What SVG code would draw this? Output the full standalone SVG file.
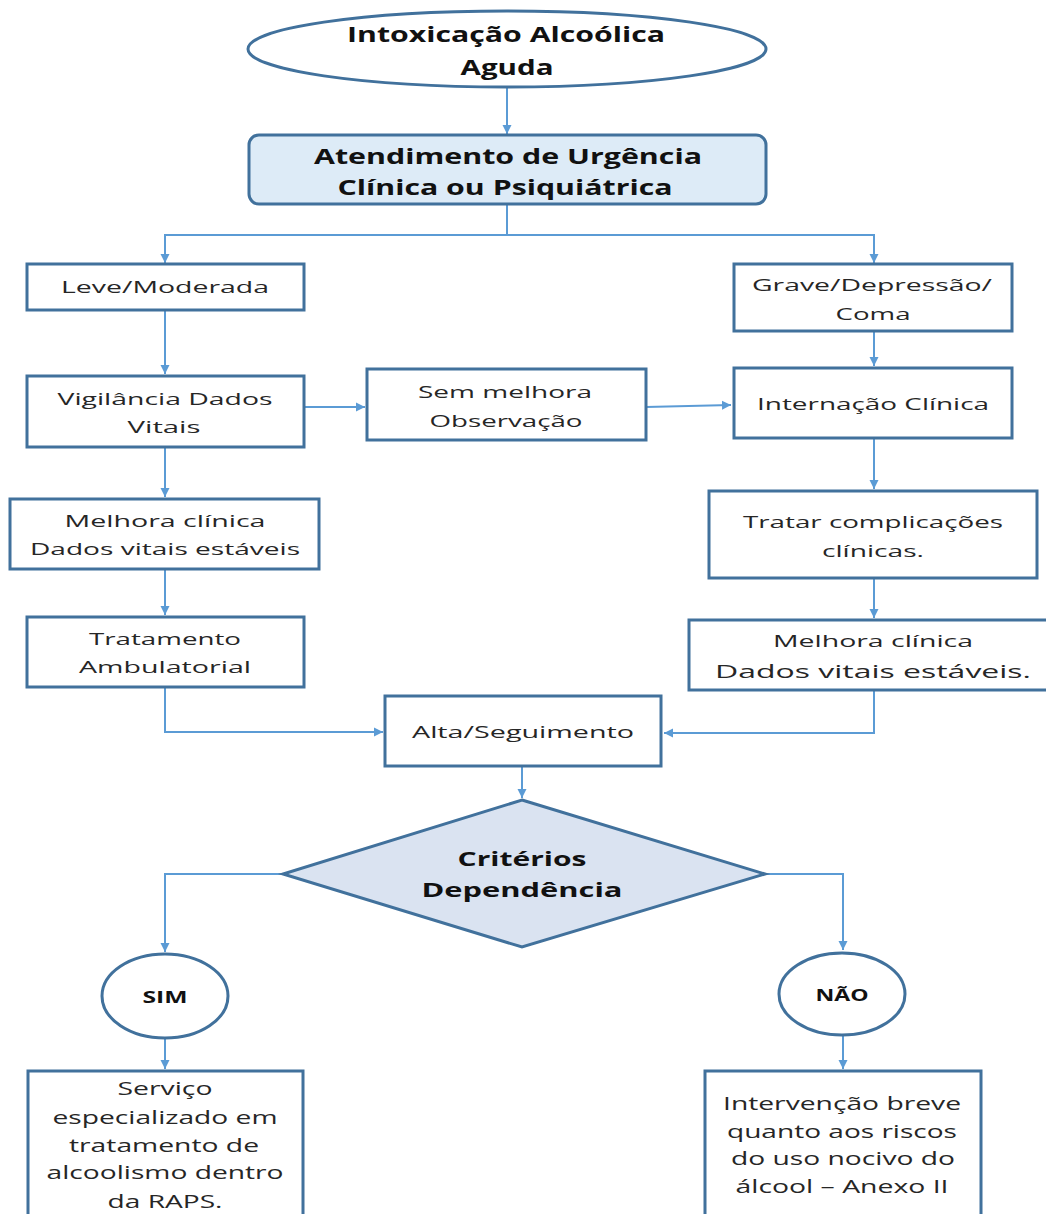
<svg xmlns="http://www.w3.org/2000/svg" width="1046" height="1214" viewBox="0 0 1046 1214">
<defs>
<marker id="ah" markerUnits="userSpaceOnUse" markerWidth="10" markerHeight="10" refX="9" refY="5" orient="auto">
<path d="M0,0.5 L9,5 L0,9.5 Z" fill="#5b9bd5"/>
</marker>
<style>
.box{fill:#ffffff;stroke:#41719c;stroke-width:3}
.hl{fill:#ddebf7;stroke:#41719c;stroke-width:3}
.dia{fill:#dae3f1;stroke:#41719c;stroke-width:3}
.c{fill:none;stroke:#5b9bd5;stroke-width:2}
.t{font-family:"Open Sans","DejaVu Sans",sans-serif;font-size:17px;fill:#262626;text-anchor:middle}
.tb{font-family:"Open Sans","DejaVu Sans",sans-serif;font-size:22px;font-weight:bold;fill:#111111;text-anchor:middle}
.tl{font-family:"Open Sans","DejaVu Sans",sans-serif;font-size:18px;fill:#262626;text-anchor:middle}
.tbl{font-family:"Open Sans","DejaVu Sans",sans-serif;font-size:20px;font-weight:bold;fill:#111111;text-anchor:middle}
.ts{font-family:"Open Sans","DejaVu Sans",sans-serif;font-size:16px;font-weight:bold;fill:#111111;text-anchor:middle}
</style>
</defs>
<rect width="1046" height="1214" fill="#ffffff"/>

<g id="connectors">
<path class="c" d="M507,88 V134" marker-end="url(#ah)"/>
<path class="c" d="M507,205 V235 H165 V263" marker-end="url(#ah)"/>
<path class="c" d="M507,235 H874 V263" marker-end="url(#ah)"/>
<path class="c" d="M165,310 V374" marker-end="url(#ah)"/>
<path class="c" d="M304,407 H365" marker-end="url(#ah)"/>
<path class="c" d="M646,407 L731,405" marker-end="url(#ah)"/>
<path class="c" d="M874,331 V366" marker-end="url(#ah)"/>
<path class="c" d="M874,438 V489" marker-end="url(#ah)"/>
<path class="c" d="M874,578 V618" marker-end="url(#ah)"/>
<path class="c" d="M165,447 V497" marker-end="url(#ah)"/>
<path class="c" d="M165,569 V615" marker-end="url(#ah)"/>
<path class="c" d="M165,687 V732 H383" marker-end="url(#ah)"/>
<path class="c" d="M874,690 V733 H664" marker-end="url(#ah)"/>
<path class="c" d="M522,766 V798" marker-end="url(#ah)"/>
<path class="c" d="M283,874 H165 V952" marker-end="url(#ah)"/>
<path class="c" d="M765,874 H843 V950" marker-end="url(#ah)"/>
<path class="c" d="M165,1038 V1069" marker-end="url(#ah)"/>
<path class="c" d="M843,1035 V1069" marker-end="url(#ah)"/>
</g>

<g id="n-intoxicacao">
<ellipse class="box" cx="507" cy="49" rx="259" ry="38"/>
<text class="tb" x="506" y="42" textLength="318" lengthAdjust="spacingAndGlyphs">Intoxicação Alcoólica</text>
<text class="tb" x="507" y="75" textLength="93" lengthAdjust="spacingAndGlyphs">Aguda</text>
</g>

<g id="n-atendimento">
<rect class="hl" x="249" y="135" width="517" height="69" rx="10"/>
<text class="tb" x="508" y="164" textLength="388" lengthAdjust="spacingAndGlyphs">Atendimento de Urgência</text>
<text class="tb" x="505" y="195" textLength="335" lengthAdjust="spacingAndGlyphs">Clínica ou Psiquiátrica</text>
</g>

<g id="n-leve">
<rect class="box" x="27" y="264" width="277" height="46"/>
<text class="t" x="165" y="293" textLength="208" lengthAdjust="spacingAndGlyphs">Leve/Moderada</text>
</g>

<g id="n-grave">
<rect class="box" x="734" y="264" width="278" height="67"/>
<text class="t" x="872" y="291" textLength="240" lengthAdjust="spacingAndGlyphs">Grave/Depressão/</text>
<text class="t" x="873" y="320" textLength="75" lengthAdjust="spacingAndGlyphs">Coma</text>
</g>

<g id="n-vigilancia">
<rect class="box" x="27" y="376" width="277" height="71"/>
<text class="t" x="165" y="405" textLength="215" lengthAdjust="spacingAndGlyphs">Vigilância Dados</text>
<text class="t" x="164" y="433" textLength="73" lengthAdjust="spacingAndGlyphs">Vitais</text>
</g>

<g id="n-sem-melhora">
<rect class="box" x="367" y="369" width="279" height="71"/>
<text class="t" x="505" y="398" textLength="174" lengthAdjust="spacingAndGlyphs">Sem melhora</text>
<text class="t" x="506" y="427" textLength="153" lengthAdjust="spacingAndGlyphs">Observação</text>
</g>

<g id="n-internacao">
<rect class="box" x="734" y="368" width="278" height="70"/>
<text class="t" x="873" y="410" textLength="232" lengthAdjust="spacingAndGlyphs">Internação Clínica</text>
</g>

<g id="n-tratar">
<rect class="box" x="709" y="491" width="328" height="87"/>
<text class="t" x="873" y="528" textLength="260" lengthAdjust="spacingAndGlyphs">Tratar complicações</text>
<text class="t" x="873" y="557" textLength="102" lengthAdjust="spacingAndGlyphs">clínicas.</text>
</g>

<g id="n-melhora-dir">
<rect class="box" x="689" y="620" width="370" height="70"/>
<text class="t" x="873" y="647" textLength="200" lengthAdjust="spacingAndGlyphs">Melhora clínica</text>
<text class="tl" x="873" y="678" textLength="316" lengthAdjust="spacingAndGlyphs">Dados vitais estáveis.</text>
</g>

<g id="n-melhora-esq">
<rect class="box" x="10" y="499" width="309" height="70"/>
<text class="t" x="165" y="527" textLength="201" lengthAdjust="spacingAndGlyphs">Melhora clínica</text>
<text class="t" x="165" y="555" textLength="270" lengthAdjust="spacingAndGlyphs">Dados vitais estáveis</text>
</g>

<g id="n-tratamento">
<rect class="box" x="27" y="617" width="277" height="70"/>
<text class="t" x="165" y="645" textLength="152" lengthAdjust="spacingAndGlyphs">Tratamento</text>
<text class="t" x="165" y="673" textLength="172" lengthAdjust="spacingAndGlyphs">Ambulatorial</text>
</g>

<g id="n-alta">
<rect class="box" x="385" y="696" width="276" height="70"/>
<text class="t" x="523" y="738" textLength="222" lengthAdjust="spacingAndGlyphs">Alta/Seguimento</text>
</g>

<g id="n-criterios">
<polygon class="dia" points="522,800 765,874 522,947 283,874"/>
<text class="tbl" x="522" y="866" textLength="129" lengthAdjust="spacingAndGlyphs">Critérios</text>
<text class="tbl" x="522" y="897" textLength="201" lengthAdjust="spacingAndGlyphs">Dependência</text>
</g>

<g id="n-sim">
<ellipse class="box" cx="165" cy="996" rx="63" ry="42"/>
<text class="ts" x="165" y="1003" textLength="45" lengthAdjust="spacingAndGlyphs">SIM</text>
</g>

<g id="n-nao">
<ellipse class="box" cx="842" cy="994" rx="63" ry="41"/>
<text class="ts" x="842" y="1001" textLength="53" lengthAdjust="spacingAndGlyphs">NÃO</text>
</g>

<g id="n-servico">
<rect class="box" x="28" y="1071" width="275" height="160"/>
<text class="tl" x="165" y="1095" textLength="95" lengthAdjust="spacingAndGlyphs">Serviço</text>
<text class="tl" x="165" y="1124" textLength="225" lengthAdjust="spacingAndGlyphs">especializado em</text>
<text class="tl" x="164" y="1152" textLength="190" lengthAdjust="spacingAndGlyphs">tratamento de</text>
<text class="tl" x="165" y="1179" textLength="237" lengthAdjust="spacingAndGlyphs">alcoolismo dentro</text>
<text class="tl" x="165" y="1208" textLength="115" lengthAdjust="spacingAndGlyphs">da RAPS.</text>
</g>

<g id="n-intervencao">
<rect class="box" x="705" y="1071" width="276" height="160"/>
<text class="tl" x="842" y="1110" textLength="238" lengthAdjust="spacingAndGlyphs">Intervenção breve</text>
<text class="tl" x="842" y="1138" textLength="230" lengthAdjust="spacingAndGlyphs">quanto aos riscos</text>
<text class="tl" x="843" y="1165" textLength="224" lengthAdjust="spacingAndGlyphs">do uso nocivo do</text>
<text class="tl" x="842" y="1193" textLength="213" lengthAdjust="spacingAndGlyphs">álcool – Anexo II</text>
</g>
</svg>
